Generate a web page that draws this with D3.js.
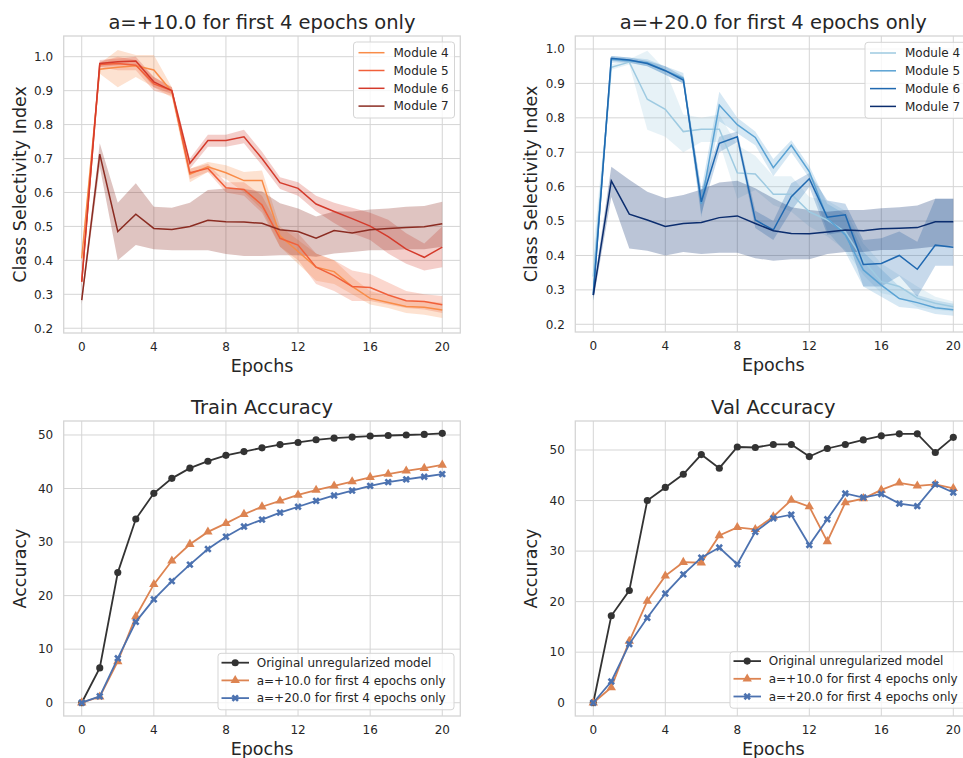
<!DOCTYPE html>
<html>
<head>
<meta charset="utf-8">
<script src="https://cdn.jsdelivr.net/npm/d3@7"></script>
<style>
  body { margin: 0; background: #fff; }
  text { font-family: "DejaVu Sans", sans-serif; fill: #262626; }
</style>
</head>
<body>
<svg id="fig" width="963" height="758"></svg>
<script>
// ---- data ----
const epochs = d3.range(0, 21)
const epochTicks = [0, 4, 8, 12, 16, 20]
const csiTicks = [0.2, 0.3, 0.4, 0.5, 0.6, 0.7, 0.8, 0.9, 1.0]
const accTicks = [0, 10, 20, 30, 40, 50]
const moduleNames = ["Module 4", "Module 5", "Module 6", "Module 7"]
const runNames = ["Original unregularized model", "a=+10.0 for first 4 epochs only", "a=+20.0 for first 4 epochs only"]

// a=+10 class selectivity (mean, lower, upper)
const a10Mod4   = [0.406,0.963,0.969,0.973,0.961,0.897,0.654,0.676,0.658,0.635,0.635,0.472,0.426,0.380,0.367,0.323,0.288,0.276,0.264,0.262,0.254]
const a10Mod4Lo = [0.39,0.95,0.91,0.94,0.91,0.88,0.63,0.66,0.64,0.60,0.55,0.44,0.39,0.34,0.33,0.30,0.27,0.26,0.245,0.24,0.23]
const a10Mod4Hi = [0.42,0.98,1.02,1.005,1.005,0.91,0.67,0.69,0.68,0.66,0.665,0.50,0.46,0.42,0.40,0.35,0.31,0.295,0.28,0.28,0.275]
const a10Mod5   = [0.337,0.977,0.980,0.975,0.920,0.900,0.658,0.671,0.614,0.609,0.563,0.465,0.445,0.380,0.355,0.323,0.320,0.298,0.281,0.279,0.269]
const a10Mod5Lo = [0.32,0.97,0.96,0.96,0.90,0.885,0.64,0.66,0.60,0.59,0.54,0.44,0.40,0.33,0.31,0.28,0.28,0.27,0.26,0.255,0.245]
const a10Mod5Hi = [0.35,0.985,1.0,0.99,0.94,0.91,0.67,0.685,0.63,0.63,0.59,0.49,0.48,0.42,0.40,0.37,0.36,0.335,0.31,0.30,0.295]
const a10Mod6   = [0.337,0.980,0.985,0.987,0.926,0.900,0.686,0.753,0.753,0.764,0.700,0.629,0.612,0.566,0.544,0.523,0.501,0.470,0.433,0.409,0.439]
const a10Mod6Lo = [0.32,0.97,0.975,0.975,0.91,0.89,0.67,0.735,0.735,0.745,0.68,0.61,0.59,0.545,0.51,0.48,0.46,0.42,0.39,0.37,0.38]
const a10Mod6Hi = [0.35,0.99,0.995,1.0,0.94,0.91,0.70,0.77,0.77,0.785,0.72,0.645,0.63,0.59,0.57,0.555,0.54,0.52,0.48,0.45,0.50]
const a10Mod7   = [0.283,0.713,0.485,0.536,0.494,0.491,0.500,0.518,0.514,0.513,0.509,0.490,0.485,0.465,0.488,0.481,0.490,0.494,0.497,0.499,0.508]
const a10Mod7Lo = [0.27,0.676,0.40,0.445,0.433,0.43,0.43,0.43,0.419,0.413,0.413,0.415,0.415,0.411,0.42,0.425,0.43,0.43,0.433,0.433,0.44]
const a10Mod7Hi = [0.30,0.745,0.57,0.627,0.558,0.555,0.57,0.607,0.612,0.61,0.603,0.568,0.553,0.529,0.544,0.544,0.55,0.553,0.558,0.56,0.573]

// a=+20 class selectivity (mean, lower, upper)
const a20Mod4   = [0.339,0.947,0.962,0.854,0.825,0.760,0.767,0.767,0.640,0.637,0.578,0.578,0.527,0.503,0.469,0.387,0.324,0.310,0.276,0.261,0.251]
const a20Mod4Lo = [0.26,0.94,0.955,0.765,0.745,0.70,0.73,0.73,0.565,0.59,0.547,0.527,0.484,0.455,0.416,0.343,0.29,0.28,0.25,0.242,0.237]
const a20Mod4Hi = [0.42,0.955,0.97,0.995,0.94,0.81,0.80,0.81,0.72,0.69,0.63,0.63,0.57,0.56,0.53,0.435,0.377,0.343,0.31,0.28,0.266]
const a20Mod5   = [0.290,0.970,0.966,0.960,0.937,0.915,0.550,0.837,0.780,0.743,0.655,0.720,0.644,0.508,0.460,0.358,0.314,0.275,0.263,0.248,0.242]
const a20Mod5Lo = [0.27,0.96,0.96,0.95,0.925,0.90,0.51,0.79,0.755,0.72,0.63,0.70,0.625,0.47,0.41,0.31,0.28,0.25,0.245,0.23,0.225]
const a20Mod5Hi = [0.31,0.98,0.975,0.97,0.95,0.93,0.59,0.876,0.80,0.76,0.68,0.735,0.66,0.55,0.52,0.41,0.36,0.31,0.285,0.27,0.26]
const a20Mod6   = [0.285,0.973,0.968,0.958,0.937,0.910,0.556,0.726,0.745,0.503,0.474,0.571,0.623,0.511,0.518,0.374,0.377,0.400,0.360,0.430,0.424]
const a20Mod6Lo = [0.27,0.965,0.96,0.95,0.925,0.90,0.52,0.70,0.73,0.48,0.445,0.53,0.60,0.46,0.47,0.31,0.31,0.34,0.28,0.37,0.37]
const a20Mod6Hi = [0.30,0.98,0.975,0.965,0.95,0.92,0.59,0.745,0.76,0.53,0.50,0.61,0.64,0.56,0.55,0.445,0.45,0.47,0.44,0.565,0.565]
const a20Mod7   = [0.285,0.617,0.520,0.503,0.484,0.493,0.496,0.510,0.515,0.493,0.472,0.464,0.463,0.468,0.474,0.472,0.478,0.479,0.481,0.498,0.498]
const a20Mod7Lo = [0.27,0.57,0.42,0.414,0.40,0.41,0.404,0.408,0.408,0.392,0.385,0.389,0.389,0.404,0.41,0.41,0.416,0.416,0.42,0.426,0.428]
const a20Mod7Hi = [0.30,0.658,0.62,0.585,0.566,0.576,0.592,0.612,0.617,0.595,0.566,0.54,0.532,0.527,0.532,0.532,0.537,0.54,0.545,0.565,0.565]

// accuracy
const trainOrig = [0,6.5,24.3,34.3,39.1,41.9,43.8,45.1,46.2,46.9,47.6,48.2,48.6,49.1,49.4,49.6,49.8,49.9,50.0,50.1,50.3]
const trainA10  = [0,1.1,7.7,16.1,22.1,26.5,29.6,31.9,33.5,35.2,36.6,37.7,38.8,39.7,40.5,41.3,42.1,42.7,43.3,43.8,44.4]
const trainA20  = [0,1.2,8.3,15.1,19.3,22.7,25.8,28.7,31.0,32.9,34.2,35.5,36.6,37.7,38.7,39.6,40.5,41.2,41.7,42.2,42.7]
const valOrig   = [0,17.2,22.2,40.0,42.6,45.2,49.1,46.4,50.6,50.5,51.1,51.1,48.7,50.3,51.1,52.0,52.8,53.2,53.2,49.5,52.5]
const valA10    = [0,3.0,12.2,20.1,25.1,27.8,27.7,33.1,34.7,34.3,36.8,40.1,38.8,31.9,39.6,40.4,42.1,43.5,42.9,43.2,42.4]
const valA20    = [0,4.2,11.6,16.8,21.6,25.4,28.7,30.7,27.4,33.8,36.5,37.2,31.2,36.3,41.4,40.6,41.3,39.4,38.9,43.2,41.6]

const orangeShades = ["#f98c48", "#f1603a", "#d43a2b", "#8b2c22"]
const blueShades   = ["#9ecae1", "#5aa2d3", "#1f68b0", "#0b2d6e"]
const runColors    = ["#333333", "#dd8452", "#4c72b0"]
const runMarkers   = [d3.symbolCircle, d3.symbolTriangle, d3.symbolCross]
const markerSize   = [40, 38, 34]

const svg = d3.select("#fig")
const GRID = "#d5d5d5"

// ---- helpers ----
function makeAxes(box, yDomain, yTicks, fmt, title, ylabel) {
  const x = d3.scaleLinear().domain([-1, 21]).range([box.left, box.right])
  const y = d3.scaleLinear().domain(yDomain).range([box.bottom, box.top])
  const g = svg.append("g")

  // grid + frame
  g.append("g").selectAll("line").data(epochTicks).join("line")
    .attr("x1", d => x(d)).attr("x2", d => x(d))
    .attr("y1", box.top).attr("y2", box.bottom)
    .attr("stroke", GRID).attr("stroke-width", 1)
  g.append("g").selectAll("line").data(yTicks).join("line")
    .attr("x1", box.left).attr("x2", box.right)
    .attr("y1", d => y(d)).attr("y2", d => y(d))
    .attr("stroke", GRID).attr("stroke-width", 1)
  g.append("rect")
    .attr("x", box.left).attr("y", box.top)
    .attr("width", box.right - box.left).attr("height", box.bottom - box.top)
    .attr("fill", "none").attr("stroke", GRID).attr("stroke-width", 1.3)

  // tick labels
  g.append("g").selectAll("text").data(epochTicks).join("text")
    .attr("x", d => x(d)).attr("y", box.bottom + 18)
    .attr("text-anchor", "middle").attr("font-size", 12)
    .text(d => d)
  g.append("g").selectAll("text").data(yTicks).join("text")
    .attr("x", box.left - 10.5).attr("y", d => y(d) + 4.3)
    .attr("text-anchor", "end").attr("font-size", 12)
    .text(fmt)

  // titles
  const cx = (box.left + box.right) / 2
  g.append("text").attr("x", cx).attr("y", box.top - 7)
    .attr("text-anchor", "middle").attr("font-size", 19.5).text(title)
  g.append("text").attr("x", cx).attr("y", box.bottom + 39)
    .attr("text-anchor", "middle").attr("font-size", 17.5).text("Epochs")
  g.append("text")
    .attr("transform", `translate(${box.left - 38},${(box.top + box.bottom) / 2}) rotate(-90)`)
    .attr("text-anchor", "middle").attr("font-size", 17.5).text(ylabel)

  const plot = svg.append("g")
  return { x, y, plot }
}

function drawSelectivity(ax, series, colors, legendPos) {
  const { x, y, plot } = ax
  const area = d3.area().x((d, i) => x(epochs[i])).y0(d => y(d[0])).y1(d => y(d[1]))
  const line = d3.line().x((d, i) => x(epochs[i])).y(d => y(d))
  // bands first, lines on top (matplotlib zorder)
  series.forEach((s, k) => {
    plot.append("path")
      .datum(s.lo.map((v, i) => [v, s.hi[i]]))
      .attr("d", area).attr("fill", colors[k]).attr("fill-opacity", k === 3 ? 0.28 : 0.25)
  })
  series.forEach((s, k) => {
    plot.append("path").datum(s.mean).attr("d", line)
      .attr("fill", "none").attr("stroke", colors[k]).attr("stroke-width", 1.5)
  })

  const lg = svg.append("g").attr("transform", `translate(${legendPos[0]},${legendPos[1]})`)
  lg.append("rect").attr("width", 101).attr("height", 76).attr("rx", 3)
    .attr("fill", "#fff").attr("fill-opacity", 0.8).attr("stroke", GRID)
  moduleNames.forEach((name, k) => {
    const cy = 10.7 + k * 17.8
    lg.append("line").attr("x1", 5).attr("x2", 31).attr("y1", cy).attr("y2", cy)
      .attr("stroke", colors[k]).attr("stroke-width", 1.5)
    lg.append("text").attr("x", 40).attr("y", cy + 4.3).attr("font-size", 12).text(name)
  })
}

function drawAccuracy(ax, runs, legendPos) {
  const { x, y, plot } = ax
  const line = d3.line().x((d, i) => x(epochs[i])).y(d => y(d))
  runs.forEach((vals, k) => {
    plot.append("path").datum(vals).attr("d", line)
      .attr("fill", "none").attr("stroke", runColors[k]).attr("stroke-width", 1.8)
    plot.append("g").selectAll("path").data(vals).join("path")
      .attr("transform", (d, i) => `translate(${x(epochs[i])},${y(d)})${k === 2 ? " rotate(45)" : ""}`)
      .attr("d", d3.symbol(runMarkers[k], markerSize[k]))
      .attr("fill", runColors[k])
  })

  const lg = svg.append("g").attr("transform", `translate(${legendPos[0]},${legendPos[1]})`)
  lg.append("rect").attr("width", 236).attr("height", 56.5).attr("rx", 3)
    .attr("fill", "#fff").attr("fill-opacity", 0.8).attr("stroke", GRID)
  runNames.forEach((name, k) => {
    const cy = 9.4 + k * 17.7
    lg.append("line").attr("x1", 3.5).attr("x2", 31).attr("y1", cy).attr("y2", cy)
      .attr("stroke", runColors[k]).attr("stroke-width", 1.8)
    lg.append("path")
      .attr("transform", `translate(17.2,${cy})${k === 2 ? " rotate(45)" : ""}`)
      .attr("d", d3.symbol(runMarkers[k], markerSize[k])).attr("fill", runColors[k])
    lg.append("text").attr("x", 38.7).attr("y", cy + 4.3).attr("font-size", 12).text(name)
  })
}

// ---- panels ----
const f1 = d3.format(".1f")
const axA10 = makeAxes({ left: 63.7, right: 460.3, top: 36, bottom: 333 }, [0.186, 1.061], csiTicks, f1,
  "a=+10.0 for first 4 epochs only", "Class Selectivity Index")
drawSelectivity(axA10, [
  { mean: a10Mod4, lo: a10Mod4Lo, hi: a10Mod4Hi },
  { mean: a10Mod5, lo: a10Mod5Lo, hi: a10Mod5Hi },
  { mean: a10Mod6, lo: a10Mod6Lo, hi: a10Mod6Hi },
  { mean: a10Mod7, lo: a10Mod7Lo, hi: a10Mod7Hi }
], orangeShades, [353.5, 42])

const axA20 = makeAxes({ left: 575.3, right: 971.3, top: 36, bottom: 332 }, [0.1776, 1.0378], csiTicks, f1,
  "a=+20.0 for first 4 epochs only", "Class Selectivity Index")
drawSelectivity(axA20, [
  { mean: a20Mod4, lo: a20Mod4Lo, hi: a20Mod4Hi },
  { mean: a20Mod5, lo: a20Mod5Lo, hi: a20Mod5Hi },
  { mean: a20Mod6, lo: a20Mod6Lo, hi: a20Mod6Hi },
  { mean: a20Mod7, lo: a20Mod7Lo, hi: a20Mod7Hi }
], blueShades, [865, 42.3])

const axTrain = makeAxes({ left: 63.7, right: 460.3, top: 421, bottom: 716 }, [-2.48, 52.61], accTicks, d => d,
  "Train Accuracy", "Accuracy")
drawAccuracy(axTrain, [trainOrig, trainA10, trainA20], [218, 653.3])

const axVal = makeAxes({ left: 575.3, right: 971.3, top: 421, bottom: 716 }, [-2.63, 55.74], accTicks, d => d,
  "Val Accuracy", "Accuracy")
drawAccuracy(axVal, [valOrig, valA10, valA20], [730, 651.7])
</script>
</body>
</html>
